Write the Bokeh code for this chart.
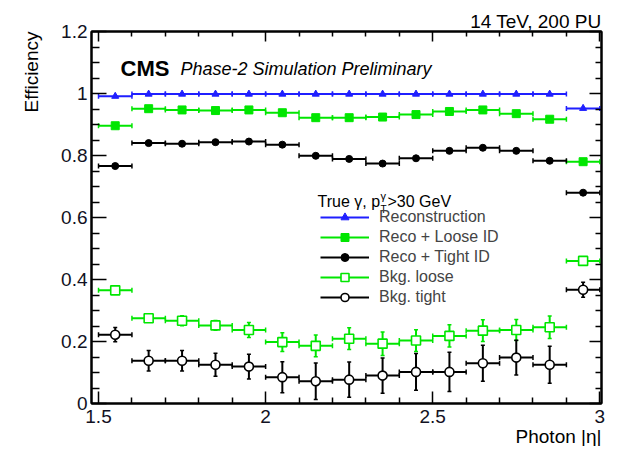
import math
from bokeh.plotting import figure
from bokeh.models import (LinearAxis, FixedTicker, Label, Legend, LegendItem, Title,
                          ColumnDataSource, NumeralTickFormatter)
from bokeh.embed import file_html
from bokeh.resources import INLINE

# ---------------- data ----------------
bin_lo = [1.5, 1.6, 1.7, 1.8, 1.9, 2.0, 2.1, 2.2, 2.3, 2.4, 2.5, 2.6, 2.7, 2.8, 2.9]
bin_hi = [1.6, 1.7, 1.8, 1.9, 2.0, 2.1, 2.2, 2.3, 2.4, 2.5, 2.6, 2.7, 2.8, 2.9, 3.0]
eta = [1.55, 1.65, 1.75, 1.85, 1.95, 2.05, 2.15, 2.25, 2.35, 2.45, 2.55, 2.65, 2.75, 2.85, 2.95]

reco = [0.991, 0.998, 0.998, 0.998, 0.998, 0.998, 0.998, 0.998, 0.998, 0.998,
        0.998, 0.998, 0.998, 0.998, 0.952]
reco_loose = [0.896, 0.951, 0.947, 0.945, 0.947, 0.938, 0.922, 0.922, 0.924, 0.932,
              0.942, 0.947, 0.935, 0.917, 0.780]
reco_tight = [0.766, 0.840, 0.838, 0.843, 0.845, 0.835, 0.799, 0.789, 0.774, 0.791,
              0.815, 0.825, 0.815, 0.783, 0.680]
bkg_loose = [0.365, 0.275, 0.267, 0.252, 0.237, 0.198, 0.186, 0.209, 0.193, 0.203,
             0.218, 0.235, 0.237, 0.246, 0.460]
bkg_loose_err = [0.008, 0.012, 0.016, 0.016, 0.024, 0.030, 0.035, 0.035, 0.038, 0.035,
                 0.036, 0.035, 0.034, 0.036, 0.010]
bkg_tight = [0.222, 0.138, 0.138, 0.125, 0.119, 0.085, 0.072, 0.077, 0.090, 0.102,
             0.102, 0.130, 0.148, 0.125, 0.367]
bkg_tight_err = [0.023, 0.033, 0.033, 0.037, 0.040, 0.050, 0.059, 0.057, 0.057, 0.059,
                 0.063, 0.058, 0.056, 0.060, 0.024]

x_ticks = [1.5, 2.0, 2.5, 3.0]
x_minor = [1.6, 1.7, 1.8, 1.9, 2.1, 2.2, 2.3, 2.4, 2.6, 2.7, 2.8, 2.9]
y_ticks = [0.0, 0.2, 0.4, 0.6, 0.8, 1.0, 1.2]
y_minor = [0.05, 0.1, 0.15, 0.25, 0.3, 0.35, 0.45, 0.5, 0.55, 0.65, 0.7, 0.75,
           0.85, 0.9, 0.95, 1.05, 1.1, 1.15]

BLUE = "#1f1fff"
GREEN = "#00e600"
BLACK = "#000000"
FONT = "Liberation Sans"

X0, X1 = 1.479, 3.005
Y0, Y1 = 0.0, 1.2
W, H = 606, 446
FL, FR, FT, FB = 91, 601, 31, 403


def dx(px):
    return X0 + (px - FL) * (X1 - X0) / (FR - FL)


def dy(py):
    return Y0 + (FB - py) * (Y1 - Y0) / (FB - FT)


p = figure(width=W, height=H, x_range=(X0, X1), y_range=(Y0, Y1),
           output_backend="svg", toolbar_location=None,
           min_border_left=FL, min_border_right=W - FR, min_border_top=FT,
           min_border_bottom=H - FB,
           background_fill_color="white", border_fill_color="white")
p.grid.visible = False
p.outline_line_color = "black"
p.outline_line_width = 2


def style_axis(ax, ticks, minor, tin, tmin, labels=True):
    ax.ticker = FixedTicker(ticks=ticks, minor_ticks=minor)
    ax.axis_line_color = "black"
    ax.axis_line_width = 2
    ax.major_tick_line_color = "black"
    ax.major_tick_line_width = 1.5
    ax.minor_tick_line_color = "black"
    ax.minor_tick_line_width = 1.5
    ax.major_tick_in = tin
    ax.major_tick_out = 0
    ax.minor_tick_in = tmin
    ax.minor_tick_out = 0
    ax.formatter = NumeralTickFormatter(format="0.[0]")
    if labels:
        ax.major_label_text_font = FONT
        ax.major_label_text_font_size = "19px"
        ax.major_label_text_color = "#111122"
    else:
        ax.major_label_text_font_size = "0px"
        ax.major_label_standoff = 0


xa = p.xaxis[0]
style_axis(xa, x_ticks, x_minor, 12, 6)
xa.major_label_standoff = 6
ya = p.yaxis[0]
style_axis(ya, y_ticks, y_minor, 15, 8)
ya.major_label_standoff = 4

ra = LinearAxis()
style_axis(ra, y_ticks, y_minor, 12, 6, labels=False)
p.add_layout(ra, "right")
ta = LinearAxis()
style_axis(ta, x_ticks, x_minor, 10, 5, labels=False)
p.add_layout(ta, "above")

# axis titles placed ROOT-style (at the end of the axis)
p.add_layout(Title(text="Photon |\u03b7|", align="right", text_font=FONT, text_color="black",
                   text_font_size="19px", text_font_style="normal", standoff=-4), "below")
p.add_layout(Title(text="Efficiency", align="right", vertical_align="top", text_font=FONT,
                   text_color="black", text_font_size="19px", text_font_style="normal",
                   standoff=30), "left")
p.add_layout(Title(text="14 TeV, 200 PU", align="right", text_font=FONT, text_color="black",
                   text_font_size="19px", text_font_style="normal", standoff=0), "above")

src = ColumnDataSource(dict(lo=bin_lo, hi=bin_hi, eta=eta, reco=reco, rl=reco_loose,
                            rt=reco_tight, bl=bkg_loose,
                            bl_lo=[v - e for v, e in zip(bkg_loose, bkg_loose_err)],
                            bl_hi=[v + e for v, e in zip(bkg_loose, bkg_loose_err)],
                            bt=bkg_tight,
                            bt_lo=[v - e for v, e in zip(bkg_tight, bkg_tight_err)],
                            bt_hi=[v + e for v, e in zip(bkg_tight, bkg_tight_err)]))

items = []


def series(col, color, marker, size, fill, label, lo=None, hi=None):
    h = p.segment(x0="lo", x1="hi", y0=col, y1=col, source=src, line_color=color, line_width=2)
    rends = [h]
    for edge in ("lo", "hi"):
        p.scatter(x=edge, y=col, source=src, marker="dash", angle=math.pi / 2, size=5,
                  line_color=color, line_width=1.5)
    if lo is not None:
        p.segment(x0="eta", x1="eta", y0=lo, y1=hi, source=src, line_color=color, line_width=2)
        for end in (lo, hi):
            p.scatter(x="eta", y=end, source=src, marker="dash", size=4,
                      line_color=color, line_width=1.5)
    m = p.scatter(x="eta", y=col, source=src, marker=marker, size=size,
                  line_color=color, line_width=1.6 if not fill else 1,
                  fill_color=color if fill else "white")
    rends.append(m)
    items.append(LegendItem(label=label, renderers=rends))


series("reco", BLUE, "triangle", 7, True, "Reconstruction")
series("rl", GREEN, "square", 8, True, "Reco + Loose ID")
series("rt", BLACK, "circle", 7, True, "Reco + Tight ID")
series("bl", GREEN, "square", 9, False, "Bkg. loose", "bl_lo", "bl_hi")
series("bt", BLACK, "circle", 9, False, "Bkg. tight", "bt_lo", "bt_hi")

legend = Legend(items=items, location=(229, 96), glyph_width=49, glyph_height=20,
                label_height=20, spacing=0, padding=0, margin=0, label_standoff=10,
                label_text_font=FONT, label_text_font_size="16px",
                border_line_color=None, background_fill_alpha=0)
p.add_layout(legend, "center")


def lab(text, px, py, size, style="normal", align="left", angle=0.0, color="black"):
    p.add_layout(Label(x=dx(px), y=dy(py), text=text, text_font=FONT,
                       text_font_size=size, text_font_style=style, text_align=align,
                       text_baseline="alphabetic", angle=angle, text_color=color))


lab("CMS", 120, 68, "22px", "bold")
lab("Phase-2 Simulation Preliminary", 180, 68, "18px", "italic")
lab("True \u03b3, p", 317, 201, "16px")
lab("\u03b3", 380, 195, "11px")
lab("T", 380, 209, "10px")
lab(">30 GeV", 387, 201, "16px")

open("out.html", "w").write(file_html(p, INLINE))
